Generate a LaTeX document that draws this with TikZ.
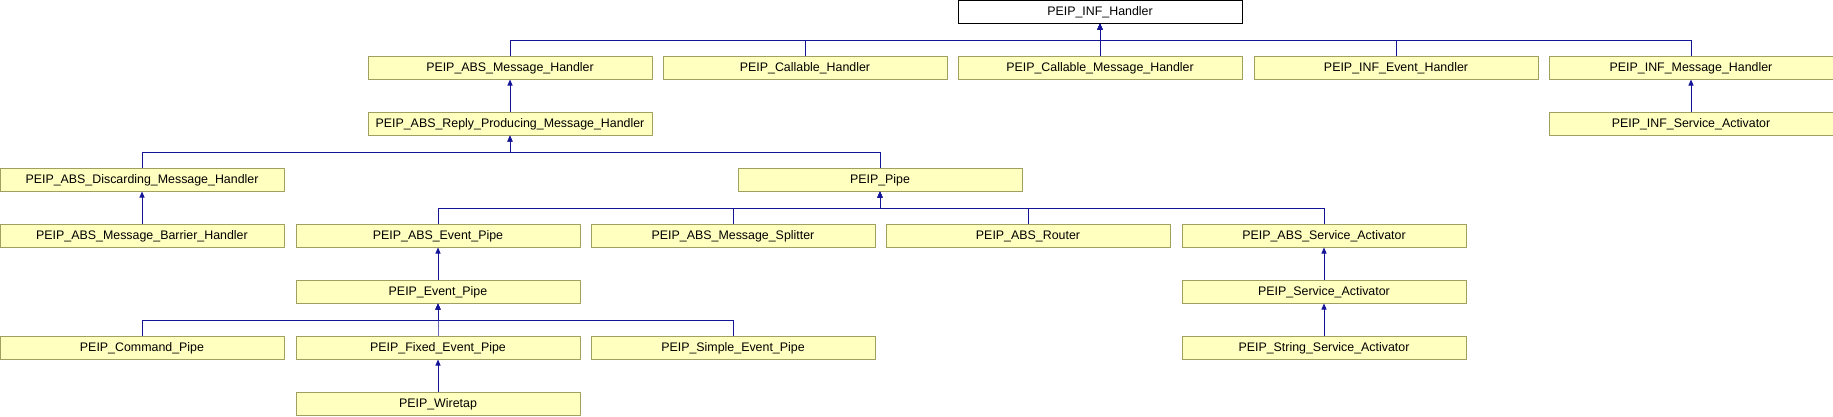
\documentclass[tikz,border=0pt]{standalone}
\usepackage{fontspec}
\setmainfont{Liberation Sans}
\usetikzlibrary{arrows.meta}
\definecolor{edgeblue}{RGB}{20,20,150}
\definecolor{boxfill}{RGB}{255,255,192}
\definecolor{boxline}{RGB}{160,160,96}
\begin{document}
\begin{tikzpicture}[x=1pt, y=-1pt,
		every node/.style = {shape=rectangle, minimum width=284pt, minimum height=23pt,
			inner sep=0pt, text height=8.9pt, text depth=0pt, font=\fontsize{12.4}{14}\selectfont},
		cls/.style = {draw=boxline, fill=boxfill, line width=1pt},
		root/.style = {draw=black, fill=white, line width=1pt},
		inherit/.style = {draw=edgeblue, line width=1pt, -{Triangle[width=5pt,length=6pt]}}]
		
		\useasboundingbox (0,0) rectangle (1833,416);
		
		% bus lines between rows
		\coordinate (bus1) at (0,40);
		\coordinate (bus3) at (0,152);
		\coordinate (bus4) at (0,208);
		\coordinate (bus7) at (0,320);
		
		\node[root] (infhandler) at (1100,11.5) {PEIP\_INF\_Handler};
		
		\node[cls] (absmsg)      at (510,67.5)  {PEIP\_ABS\_Message\_Handler};
		\node[cls] (callable)    at (805,67.5)  {PEIP\_Callable\_Handler};
		\node[cls] (callablemsg) at (1100,67.5) {PEIP\_Callable\_Message\_Handler};
		\node[cls] (infevent)    at (1396,67.5) {PEIP\_INF\_Event\_Handler};
		\node[cls] (infmsg)      at (1691,67.5) {PEIP\_INF\_Message\_Handler};
		
		\node[cls] (reply)  at (510,123.5)  {PEIP\_ABS\_Reply\_Producing\_Message\_Handler};
		\node[cls] (infsvc) at (1691,123.5) {PEIP\_INF\_Service\_Activator};
		
		\node[cls] (discarding) at (142,179.5) {PEIP\_ABS\_Discarding\_Message\_Handler};
		\node[cls] (pipe)       at (880,179.5) {PEIP\_Pipe};
		
		\node[cls] (barrier)   at (142,235.5)  {PEIP\_ABS\_Message\_Barrier\_Handler};
		\node[cls] (abspipe)   at (438,235.5)  {PEIP\_ABS\_Event\_Pipe};
		\node[cls] (splitter)  at (733,235.5)  {PEIP\_ABS\_Message\_Splitter};
		\node[cls] (router)    at (1028,235.5) {PEIP\_ABS\_Router};
		\node[cls] (abssvc)    at (1324,235.5) {PEIP\_ABS\_Service\_Activator};
		
		\node[cls] (eventpipe) at (438,291.5)  {PEIP\_Event\_Pipe};
		\node[cls] (svc)       at (1324,291.5) {PEIP\_Service\_Activator};
		
		\node[cls] (command)   at (142,347.5)  {PEIP\_Command\_Pipe};
		\node[cls] (fixed)     at (438,347.5)  {PEIP\_Fixed\_Event\_Pipe};
		\node[cls] (simple)    at (733,347.5)  {PEIP\_Simple\_Event\_Pipe};
		\node[cls] (stringsvc) at (1324,347.5) {PEIP\_String\_Service\_Activator};
		
		\node[cls] (wiretap) at (438,403.5) {PEIP\_Wiretap};
		
		\foreach \c in {absmsg, callable, callablemsg, infevent, infmsg}
		\draw[inherit] (\c.north) -- (\c.north |- bus1) -| (infhandler.south);
		
		\draw[inherit] (reply) -- (absmsg);
		\draw[inherit] (infsvc) -- (infmsg);
		
		\foreach \c in {discarding, pipe}
		\draw[inherit] (\c.north) -- (\c.north |- bus3) -| (reply.south);
		
		\draw[inherit] (barrier) -- (discarding);
		
		\foreach \c in {abspipe, splitter, router, abssvc}
		\draw[inherit] (\c.north) -- (\c.north |- bus4) -| (pipe.south);
		
		\draw[inherit] (eventpipe) -- (abspipe);
		\draw[inherit] (svc) -- (abssvc);
		\draw[inherit] (stringsvc) -- (svc);
		
		\foreach \c in {command, fixed, simple}
		\draw[inherit] (\c.north) -- (\c.north |- bus7) -| (eventpipe.south);
		
		\draw[inherit] (wiretap) -- (fixed);
\end{tikzpicture}
\end{document}
